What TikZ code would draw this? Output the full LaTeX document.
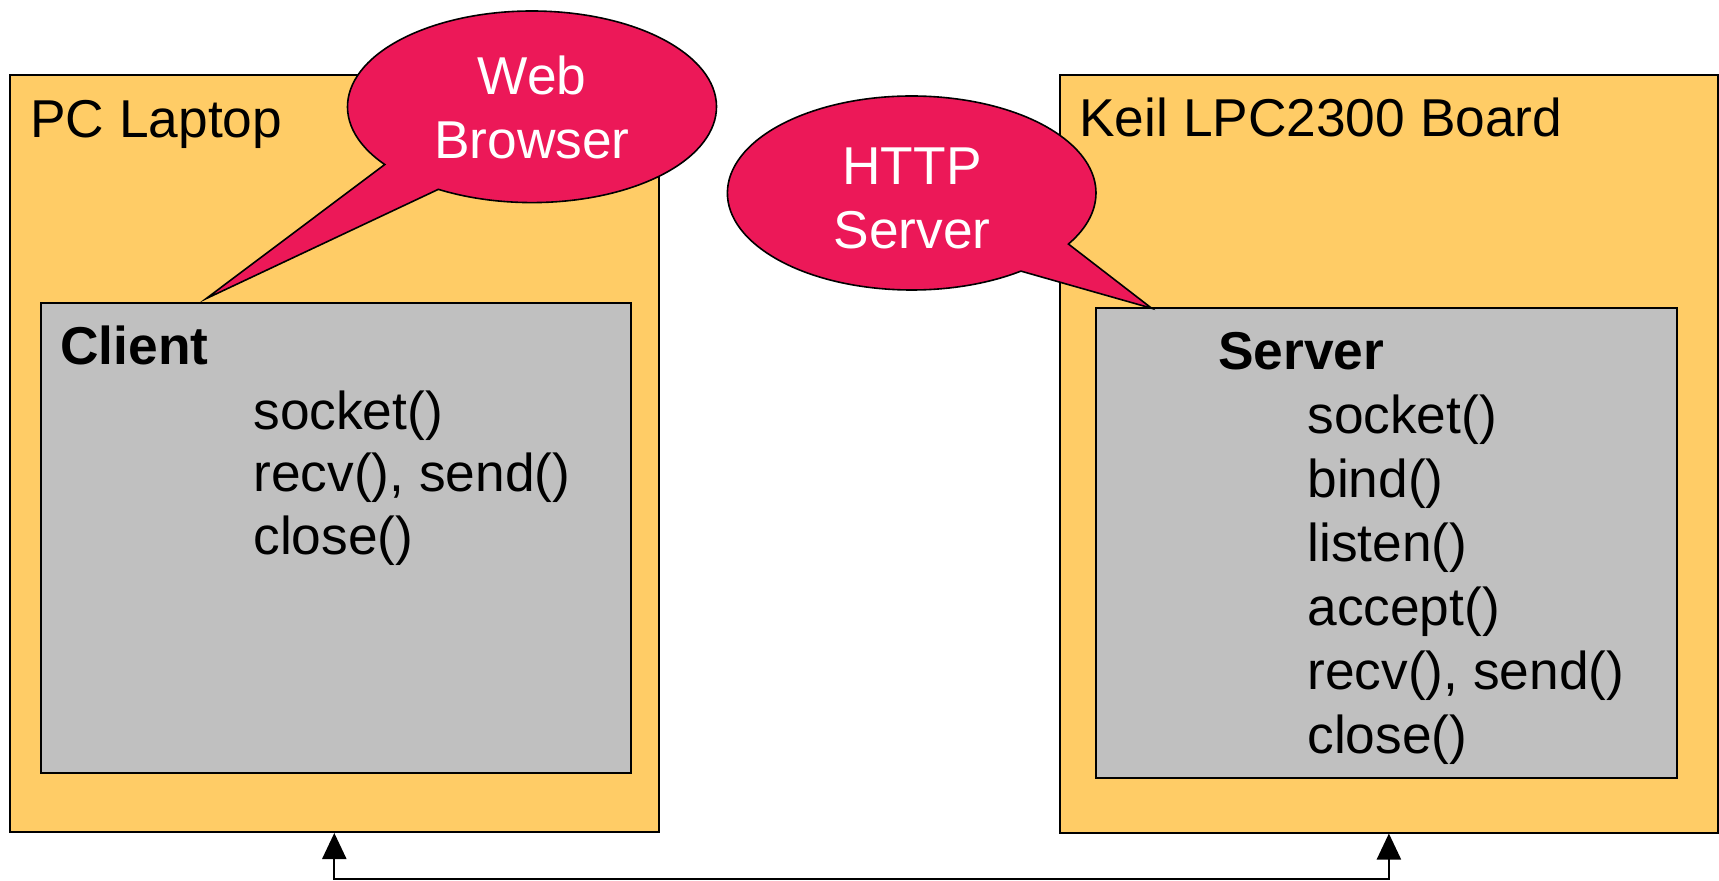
\documentclass[tikz,border=0pt]{standalone}
\usepackage{fontspec}
\setmainfont{Liberation Sans}
\usetikzlibrary{arrows.meta}
\definecolor{boxorange}{RGB}{255,204,102}
\definecolor{boxgray}{RGB}{192,192,192}
\definecolor{calloutred}{RGB}{236,24,88}
\begin{document}
\begin{tikzpicture}[x=0.5pt,y=-0.5pt,
  outerbox/.style={draw=black, line width=1pt, fill=boxorange, inner sep=0pt, anchor=north west},
  innerbox/.style={draw=black, line width=1pt, fill=boxgray, inner sep=0pt, anchor=north west},
  callout/.style={draw=black, line width=0.8pt, fill=calloutred},
  lbl/.style={inner sep=0pt, anchor=base west, font=\fontsize{26.65}{31.2}\selectfont},
  clbl/.style={inner sep=0pt, anchor=base, text=white, font=\fontsize{26.65}{31.6}\selectfont},
  link/.style={draw=black, line width=1.1pt, {Triangle[length=13pt,width=12pt]}-{Triangle[length=13pt,width=12pt]}}
]
\useasboundingbox (0,0) rectangle (1719,881);

% boxes
\node[outerbox, minimum width=324.5pt, minimum height=378.25pt] (pc) at (8.8,74.5) {};
\node[innerbox, minimum width=295.3pt, minimum height=234.75pt] (client) at (39.6,302.3) {};
\node[outerbox, minimum width=328.9pt, minimum height=378.5pt] (board) at (1059,74.5) {};
\node[innerbox, minimum width=290.25pt, minimum height=234.85pt] (server) at (1095,307) {};

% labels
\node[lbl] (pclbl) at (30,137.3) {PC Laptop};
\node[lbl] (boardlbl) at (1079,136.7) {Keil LPC2300 Board};
\node[lbl, font=\fontsize{26.65}{31.2}\selectfont\bfseries] (clientlbl) at (60,365) {Client};
\node[lbl, font=\fontsize{26.65}{31.2}\selectfont\bfseries] (serverlbl) at (1218,370) {Server};
\node[lbl] (clientcalls) at (253,429.3) {\begin{tabular}[t]{@{}l@{}}socket()\\recv(), send()\\close()\end{tabular}};
\node[lbl, font=\fontsize{26.65}{32}\selectfont] (servercalls) at (1307,433.3) {\begin{tabular}[t]{@{}l@{}}socket()\\bind()\\listen()\\accept()\\recv(), send()\\close()\end{tabular}};

% callouts
\draw[callout] (532,106.8) ++(142.95:184.5 and 95.8)
  arc[start angle=142.95, end angle=480.5, x radius=184.5, y radius=95.8]
  -- (206,298.7) -- cycle;
\node[clbl] (webtxt) at (532,95) {\begin{tabular}[t]{@{}c@{}}Web\\Browser\end{tabular}};

\draw[callout] (911.7,193) ++(53.65:184.3 and 97)
  arc[start angle=53.65, end angle=391.75, x radius=184.3, y radius=97]
  -- (1151.7,308.3) -- cycle;
\node[clbl] (httptxt) at (912,185) {\begin{tabular}[t]{@{}c@{}}HTTP\\Server\end{tabular}};

% connector
\coordinate (bot) at (0,879);
\draw[link] (pc.south) -- (pc.south |- bot) -| (board.south);
\end{tikzpicture}
\end{document}
